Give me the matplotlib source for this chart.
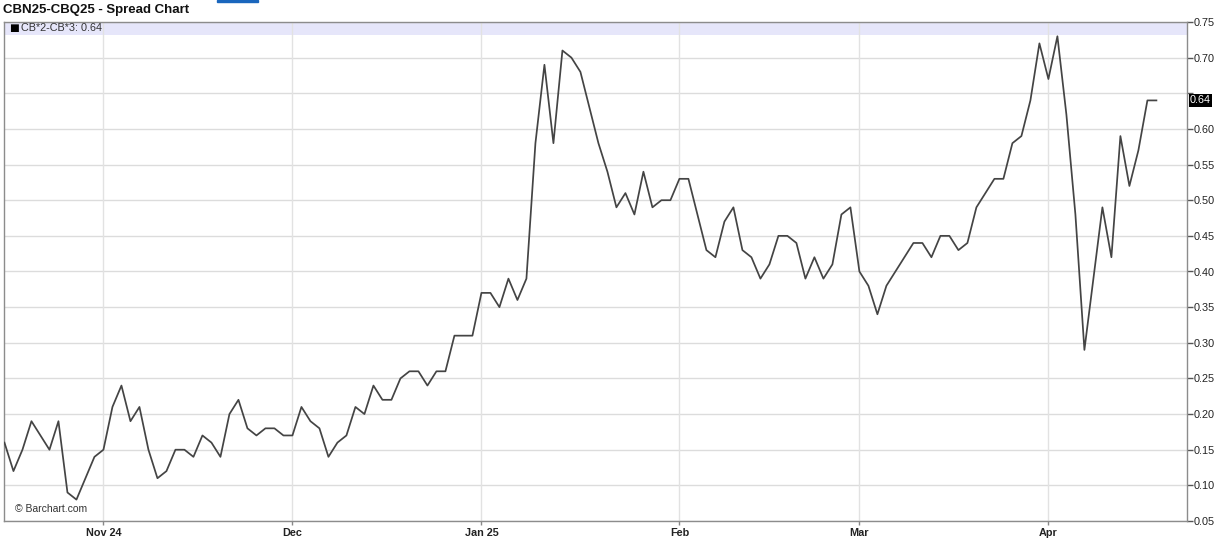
import numpy as np
import matplotlib
matplotlib.use("Agg")
import matplotlib.pyplot as plt
from matplotlib.patches import Rectangle

plt.rcParams['font.family'] = ['Liberation Sans', 'DejaVu Sans']

# spread values, one per trading session (mid Oct 2024 .. mid Apr 2025)
spread = [0.16, 0.12, 0.15, 0.19, 0.17, 0.15, 0.19, 0.09, 0.08, 0.11,
          0.14, 0.15, 0.21, 0.24, 0.19, 0.21, 0.15, 0.11, 0.12, 0.15,
          0.15, 0.14, 0.17, 0.16, 0.14, 0.20, 0.22, 0.18, 0.17, 0.18,
          0.18, 0.17, 0.17, 0.21, 0.19, 0.18, 0.14, 0.16, 0.17, 0.21,
          0.20, 0.24, 0.22, 0.22, 0.25, 0.26, 0.26, 0.24, 0.26, 0.26,
          0.31, 0.31, 0.31, 0.37, 0.37, 0.35, 0.39, 0.36, 0.39, 0.58,
          0.69, 0.58, 0.71, 0.70, 0.68, 0.63, 0.58, 0.54, 0.49, 0.51,
          0.48, 0.54, 0.49, 0.50, 0.50, 0.53, 0.53, 0.48, 0.43, 0.42,
          0.47, 0.49, 0.43, 0.42, 0.39, 0.41, 0.45, 0.45, 0.44, 0.39,
          0.42, 0.39, 0.41, 0.48, 0.49, 0.40, 0.38, 0.34, 0.38, 0.40,
          0.42, 0.44, 0.44, 0.42, 0.45, 0.45, 0.43, 0.44, 0.49, 0.51,
          0.53, 0.53, 0.58, 0.59, 0.64, 0.72, 0.67, 0.73, 0.62, 0.48,
          0.29, 0.39, 0.49, 0.42, 0.59, 0.52, 0.57, 0.64, 0.64]

# session index of the first trading day of each month
month_pos = [11, 32, 53, 75, 95, 116]
month_labels = ['Nov 24', 'Dec', 'Jan 25', 'Feb', 'Mar', 'Apr']
y_ticks = [0.05, 0.10, 0.15, 0.20, 0.25, 0.30, 0.35, 0.40, 0.45, 0.50,
           0.55, 0.60, 0.65, 0.70, 0.75]
last_value = spread[-1]

W, H = 1224, 548
fig = plt.figure(figsize=(W / 100, H / 100), dpi=100)
ax = fig.add_axes([4 / W, 1 - 521 / H, (1187 - 4) / W, (521 - 22) / H])

x = np.arange(len(spread))
ax.axhspan(0.732, 0.75, color='#e6e6fa', zorder=0, lw=0)
ax.plot(x, spread, color='#444444', lw=1.25, zorder=3)

ax.set_xlim(-0.05, 131.4)
ax.set_ylim(0.05, 0.75)

# grid
for yv in y_ticks:
    ax.axhline(yv, color='#dcdcdc', lw=1, zorder=1)
for xv in month_pos:
    ax.axvline(xv, color='#e2e2e2', lw=1, zorder=1)

for s in ax.spines.values():
    s.set_color('#8c8c8c')
    s.set_linewidth(1)

ax.yaxis.tick_right()
ax.set_yticks(y_ticks)
ax.set_yticklabels(['' if abs(v - 0.65) < 1e-9 else f'{v:.2f}' for v in y_ticks])
ax.tick_params(axis='y', direction='out', length=4, width=1, color='#555555',
               labelsize=7.8, labelcolor='#222222', pad=1)

ax.set_xticks(month_pos)
ax.set_xticklabels(month_labels, fontweight='bold')
ax.tick_params(axis='x', direction='out', length=3, width=1, color='#888888',
               labelsize=7.8, labelcolor='#222222', pad=2)

# current value box on the right axis
ax.text(1.0025, last_value, f'{last_value:.2f}', transform=ax.get_yaxis_transform(),
        ha='left', va='center', fontsize=7.8, color='white',
        bbox=dict(boxstyle='square,pad=0.12', fc='black', ec='none'), zorder=5)

# legend in the lavender band
ax.text(0.0045, 0.741, '■', transform=ax.get_yaxis_transform(), ha='left', va='center',
        fontsize=7.5, color='black', family=['DejaVu Sans'])
ax.text(0.0140, 0.741, f'CB*2-CB*3: {last_value:.2f}', transform=ax.get_yaxis_transform(),
        ha='left', va='center', fontsize=7.8, color='#333333')

ax.text(0.0095, 0.024, '© Barchart.com', transform=ax.transAxes, ha='left', va='center',
        fontsize=7.5, color='#333333')

fig.text(3 / W, 1 - 10 / H, 'CBN25-CBQ25 - Spread Chart', ha='left', va='center',
         fontsize=9.5, fontweight='bold', color='#111111')
fig.patches.append(Rectangle((217 / W, 1 - 2 / H), 41 / W, 2 / H,
                             transform=fig.transFigure, color='#1a66bd'))

fig.savefig('out.png', dpi=100)
